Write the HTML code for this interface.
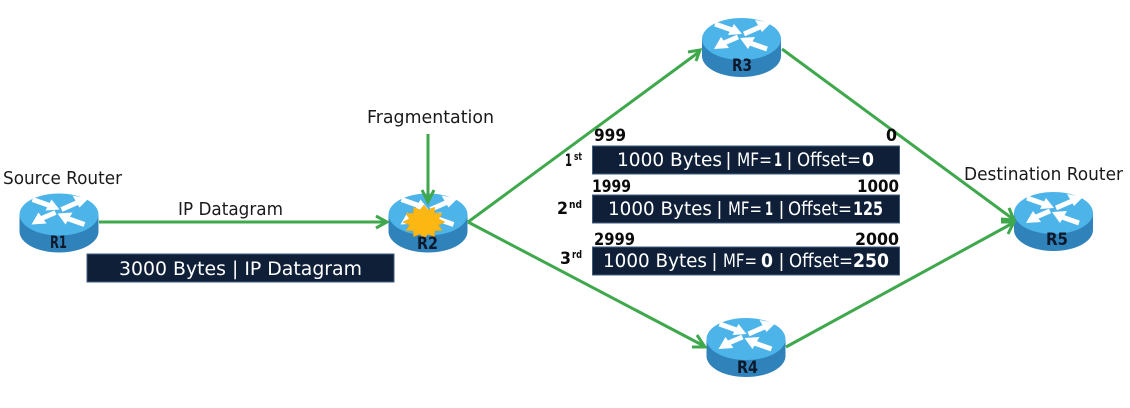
<!DOCTYPE html>
<html><head><meta charset="utf-8"><style>
html,body{margin:0;padding:0;background:#fff;width:1130px;height:408px;overflow:hidden}
svg{display:block}
text{font-family:"DejaVu Sans",sans-serif}
.l{font-size:17.5px;fill:#1a1a1a}
.w{font-size:18.5px;fill:#fff}
.p{font-size:19px;fill:#fff;font-family:"Liberation Sans",sans-serif}
.wb{font-size:18.5px;fill:#fff;font-weight:bold}
.b{font-size:16.5px;fill:#0b0b0b;font-weight:bold}
.r{font-size:17px;fill:#0e1a2b;font-weight:bold}
.o{font-size:17px;fill:#0b0b0b;font-weight:bold}
.s{font-size:10.5px;fill:#0b0b0b;font-weight:bold}
</style></head><body>
<svg width="1130" height="408" viewBox="0 0 1130 408" xmlns="http://www.w3.org/2000/svg">
<defs>
<g id="rt">
<path d="M0 21 V38 A39.5 21 0 0 0 79 38 V21 Z" fill="#2f83ba"/>
<ellipse cx="39.5" cy="21" rx="39.5" ry="21" fill="#4db4ea"/>
<g stroke="#fff" stroke-width="5" fill="none">
<line x1="13" y1="6" x2="30" y2="12"/>
<line x1="42" y1="16" x2="58" y2="9"/>
<line x1="36" y1="19" x2="22" y2="25"/>
<line x1="65" y1="31" x2="48" y2="25"/>
</g>
<g fill="#fff">
<polygon points="40,16 32,6 26,17"/>
<polygon points="69,5 53,2 60,14"/>
<polygon points="12,31 19,19 27,30"/>
<polygon points="38,20 53,19 46,31"/>
</g>
</g>
</defs>

<use href="#rt" x="19.5" y="193.5"/>
<use href="#rt" x="388.5" y="193.5"/>
<use href="#rt" x="702" y="18"/>
<use href="#rt" x="706.5" y="318"/>
<use href="#rt" x="1014" y="192"/>

<g stroke="#3fa84d" stroke-width="3" fill="none">
<line x1="99" y1="222" x2="386" y2="222"/>
<polyline points="376,216 387,222 376,228"/>
<line x1="428" y1="134" x2="428" y2="201"/>
<polyline points="422,190 428,202 434,190"/>
<line x1="468" y1="222" x2="699" y2="52"/>
<polyline points="688,52 700,50 696,61"/>
<line x1="468" y1="222" x2="704" y2="346"/>
<polyline points="697,335 705,347 692,347"/>
<line x1="782" y1="49" x2="1013" y2="219"/>
<polyline points="1001,219 1014,220 1009,208"/>
<line x1="786" y1="347" x2="1013" y2="223"/>
<polyline points="1001,222 1014,222 1008,234"/>
</g>

<polygon fill="#fdb713" stroke="#e8a010" stroke-width=".5" points="445,222 438.5,225.2 442.2,230.5 434.6,230.8 434.5,236.7 427.9,234.1 424,239 420.1,234.1 413.5,236.7 413.4,230.8 405.8,230.5 409.5,225.2 403,222 409.5,218.8 405.8,213.5 413.4,213.2 413.5,207.3 420.1,209.9 424,205 427.9,209.9 434.5,207.3 434.6,213.2 442.2,213.5 438.5,218.8"/>

<text class="r" x="50" y="248" textLength="17" lengthAdjust="spacingAndGlyphs">R1</text>
<text class="r" x="417" y="249" textLength="21" lengthAdjust="spacingAndGlyphs">R2</text>
<text class="r" x="732" y="71" textLength="20" lengthAdjust="spacingAndGlyphs">R3</text>
<text class="r" x="737" y="373" textLength="21" lengthAdjust="spacingAndGlyphs">R4</text>
<text class="r" x="1046" y="245" textLength="22" lengthAdjust="spacingAndGlyphs">R5</text>

<text class="l" x="3" y="184" textLength="119" lengthAdjust="spacingAndGlyphs">Source Router</text>
<text class="l" x="178" y="215" textLength="105" lengthAdjust="spacingAndGlyphs">IP Datagram</text>
<text class="l" x="367" y="123" textLength="127" lengthAdjust="spacingAndGlyphs">Fragmentation</text>
<text class="l" x="964" y="180" textLength="159" lengthAdjust="spacingAndGlyphs">Destination Router</text>

<rect x="87" y="254" width="307" height="28" fill="#0f1f38" stroke="#3f5c80" stroke-width="1"/>
<text class="w" x="119" y="275" textLength="243" lengthAdjust="spacingAndGlyphs">3000 Bytes | IP Datagram</text>

<rect x="592.5" y="146" width="307" height="28" fill="#0f1f38" stroke="#3f5c80" stroke-width="1"/>
<rect x="592.5" y="195" width="307" height="28" fill="#0f1f38" stroke="#3f5c80" stroke-width="1"/>
<rect x="592.5" y="247" width="307" height="28" fill="#0f1f38" stroke="#3f5c80" stroke-width="1"/>

<text class="w" x="617" y="166" textLength="105" lengthAdjust="spacingAndGlyphs">1000 Bytes</text>
<text class="p" x="726" y="166">|</text>
<text class="w" x="737" y="166" textLength="35" lengthAdjust="spacingAndGlyphs">MF=</text>
<text class="wb" x="774" y="166" textLength="8" lengthAdjust="spacingAndGlyphs">1</text>
<text class="p" x="787" y="166">|</text>
<text class="w" x="797" y="166" textLength="64" lengthAdjust="spacingAndGlyphs">Offset=</text>
<text class="wb" x="862" y="166" textLength="12" lengthAdjust="spacingAndGlyphs">0</text>

<text class="w" x="608" y="215" textLength="104" lengthAdjust="spacingAndGlyphs">1000 Bytes</text>
<text class="p" x="717" y="215">|</text>
<text class="w" x="728" y="215" textLength="34" lengthAdjust="spacingAndGlyphs">MF=</text>
<text class="wb" x="765" y="215" textLength="8" lengthAdjust="spacingAndGlyphs">1</text>
<text class="p" x="779" y="215">|</text>
<text class="w" x="788" y="215" textLength="64" lengthAdjust="spacingAndGlyphs">Offset=</text>
<text class="wb" x="853" y="215" textLength="30" lengthAdjust="spacingAndGlyphs">125</text>

<text class="w" x="603" y="267" textLength="104" lengthAdjust="spacingAndGlyphs">1000 Bytes</text>
<text class="p" x="712" y="267">|</text>
<text class="w" x="723" y="267" textLength="34" lengthAdjust="spacingAndGlyphs">MF=</text>
<text class="wb" x="761" y="267" textLength="12" lengthAdjust="spacingAndGlyphs">0</text>
<text class="p" x="779" y="267">|</text>
<text class="w" x="789" y="267" textLength="64" lengthAdjust="spacingAndGlyphs">Offset=</text>
<text class="wb" x="853" y="267" textLength="36" lengthAdjust="spacingAndGlyphs">250</text>

<text class="b" x="594" y="141" textLength="32" lengthAdjust="spacingAndGlyphs">999</text>
<text class="b" x="886" y="141" textLength="11" lengthAdjust="spacingAndGlyphs">0</text>
<text class="b" x="592" y="192" textLength="39" lengthAdjust="spacingAndGlyphs">1999</text>
<text class="b" x="857" y="192" textLength="42" lengthAdjust="spacingAndGlyphs">1000</text>
<text class="b" x="594" y="245" textLength="41" lengthAdjust="spacingAndGlyphs">2999</text>
<text class="b" x="855" y="245" textLength="44" lengthAdjust="spacingAndGlyphs">2000</text>

<text class="o" x="565" y="166" textLength="7" lengthAdjust="spacingAndGlyphs">1</text><text class="s" x="574" y="160" textLength="8" lengthAdjust="spacingAndGlyphs">st</text>
<text class="o" x="557" y="214" textLength="11" lengthAdjust="spacingAndGlyphs">2</text><text class="s" x="569" y="208" textLength="13" lengthAdjust="spacingAndGlyphs">nd</text>
<text class="o" x="560" y="264" textLength="11" lengthAdjust="spacingAndGlyphs">3</text><text class="s" x="572" y="258" textLength="10" lengthAdjust="spacingAndGlyphs">rd</text>
</svg>
</body></html>
